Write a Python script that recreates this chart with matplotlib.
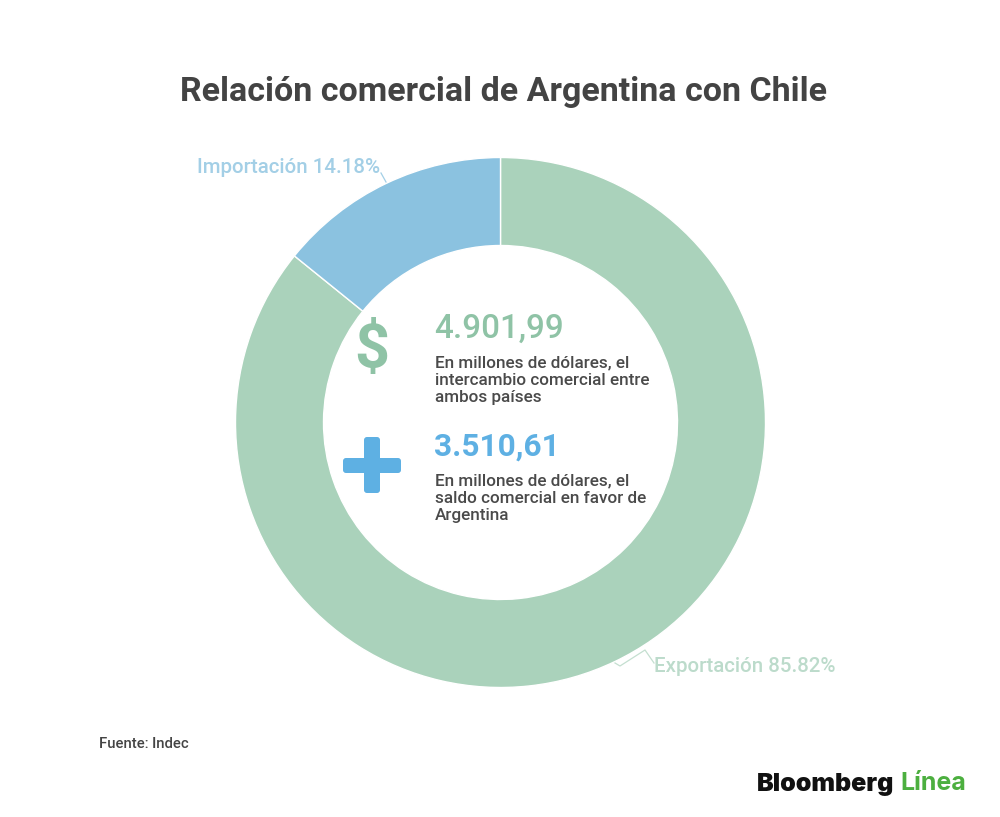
import matplotlib
matplotlib.use("Agg")
import matplotlib.pyplot as plt
from matplotlib.patches import FancyBboxPatch

plt.rcParams['font.family'] = ['Roboto', 'DejaVu Sans']

title = "Relación comercial de Argentina con Chile"
labels = ["Exportación 85.82%", "Importación 14.18%"]
shares = [85.82, 14.18]
colors = ["#aad2bb", "#8bc2e0"]
label_colors = ["#bcdbcb", "#a3cfe6"]
big_numbers = ["4.901,99", "3.510,61"]
big_colors = ["#8fc3a6", "#5eb0e3"]
notes = ["En millones de dólares, el\nintercambio comercial entre\nambos países",
         "En millones de dólares, el\nsaldo comercial en favor de\nArgentina"]
source = "Fuente: Indec"
W, H = 1000, 817
Y = lambda py: H - py

fig = plt.figure(figsize=(10, 8.17), dpi=100, facecolor="white")
ax = fig.add_axes([0, 0, 1, 1])
# Exportación runs clockwise from 12 o'clock
ax.pie(shares, colors=colors, startangle=90, counterclock=False,
       center=(500.5, Y(422.5)), radius=265,
       wedgeprops=dict(width=88, edgecolor="white", linewidth=1.0))
ax.set_xlim(0, W)
ax.set_ylim(0, H)
ax.set_aspect("equal")
ax.axis("off")

ax.text(503, Y(92), title, ha="center", va="center", fontsize=24.5, fontweight="bold", color="#434343")

ax.plot([615, 620, 645, 654], [Y(663), Y(666), Y(650), Y(663)], color="#c4dfd0", lw=0.9)
ax.plot([381, 386], [Y(173), Y(182)], color="#a3cfe6", lw=0.9)
ax.text(654, Y(667), labels[0], ha="left", va="center", fontsize=14.8, fontweight="medium", color=label_colors[0])
ax.text(197, Y(167), labels[1], ha="left", va="center", fontsize=14.8, fontweight="medium", color=label_colors[1])

ax.text(372, Y(351), "$", ha="center", va="center", fontsize=44, fontweight="bold", color=big_colors[0])
ax.text(434, Y(329), big_numbers[0], ha="left", va="center", fontsize=23.9, fontweight="medium", color=big_colors[0])
ax.text(434, Y(447), big_numbers[1], ha="left", va="center", fontsize=22.8, fontweight="bold", color=big_colors[1])
ax.text(435, Y(380.5), notes[0], ha="left", va="center", fontsize=12.3, fontweight="medium", color="#4a4a4a", linespacing=1.2)
ax.text(435, Y(498.5), notes[1], ha="left", va="center", fontsize=12.3, fontweight="medium", color="#4a4a4a", linespacing=1.2)

for x0, py0, w, h in [(343, 473, 58, 15), (364, 493, 16, 56)]:
    ax.add_patch(FancyBboxPatch((x0 + 3, Y(py0) + 3), w - 6, h - 6, boxstyle="round,pad=3",
                                fc=big_colors[1], ec="none"))

ax.text(99, Y(744.5), source, ha="left", va="center", fontsize=10.6, fontweight="medium", color="#444444")

ax.text(757, Y(784), "Bloomberg", ha="left", va="center", fontsize=18, fontweight="black",
        family=["Inter", "Liberation Sans"], color="#111111")
ax.text(900, Y(784), "Línea", ha="left", va="center", fontsize=18, fontweight="bold",
        family=["Inter", "Liberation Sans"], color="#4caf3f")

fig.savefig("out.png", dpi=100, facecolor="white")
